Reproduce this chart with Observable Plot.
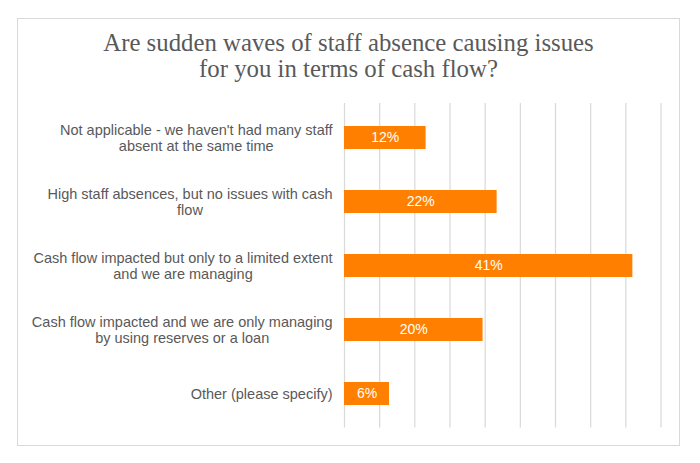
<!DOCTYPE html>
<html>
<head>
<meta charset="utf-8">
<script src="https://cdn.jsdelivr.net/npm/d3@7"></script>
<script src="https://cdn.jsdelivr.net/npm/@observablehq/plot@0.6"></script>
<style>
  html, body { margin: 0; padding: 0; background: #fff; }
  #wrap { position: relative; width: 700px; height: 463px; overflow: hidden; }
  #border { position: absolute; left: 17px; top: 18px; width: 661px; height: 426px; border: 1px solid #d9d9d9; box-sizing: content-box; }
  #title { position: absolute; left: 17px; width: 663px; top: 30px; text-align: center;
           font-family: "Liberation Serif", serif; font-size: 24.8px; line-height: 26px; color: #595959; }
  #chart { position: absolute; left: 0; top: 0; }
</style>
</head>
<body>
<div id="wrap">
  <div id="border"></div>
  <div id="chart"></div>
  <div id="title">Are sudden waves of staff absence causing issues<br>for you in terms of cash flow?</div>
</div>
<script>
const categories = [
  "Not applicable - we haven't had many staff\nabsent at the same time",
  "High staff absences, but no issues with cash\nflow",
  "Cash flow impacted but only to a limited extent\nand we are managing",
  "Cash flow impacted and we are only managing\nby using reserves or a loan",
  "Other (please specify)"
];
const values = [11.6, 21.7, 41.0, 19.7, 6.4];
const valueLabels = ["12%", "22%", "41%", "20%", "6%"];
const gridTicks = [0, 5, 10, 15, 20, 25, 30, 35, 40, 45];

const data = categories.map((c, i) => ({category: c, value: values[i], label: valueLabels[i]}));

const labelSize = 14.5;
const ctx = document.createElement("canvas").getContext("2d");
ctx.font = labelSize + "px 'Liberation Sans'";
const blockWidth = c => Math.max(...c.split("\n").map(l => ctx.measureText(l).width));
const gap = 12;

const labelMarks = categories.map(c =>
  Plot.text([c], {
    x: () => 0, y: d => d, text: d => d,
    textAnchor: "middle", lineAnchor: "middle", lineHeight: 1.05,
    dx: -(gap + blockWidth(c) / 2),
    fill: "#595959", fontSize: labelSize
  })
);

const chart = Plot.plot({
  width: 700,
  height: 463,
  marginLeft: 344,
  marginRight: 39.5,
  marginTop: 103,
  marginBottom: 35.5,
  x: {domain: [0, 45], axis: null},
  y: {domain: categories, axis: null, paddingInner: 0.646, paddingOuter: 0.323},
  style: {fontFamily: "'Liberation Sans', Arial, sans-serif", background: "transparent"},
  marks: [
    Plot.ruleX(gridTicks, {stroke: "#d9d9d9", strokeWidth: 1.2}),
    Plot.barX(data, {x: "value", y: "category", fill: "#ff7f00"}),
    Plot.text(data, {x: d => d.value / 2, y: "category", text: "label", fill: "white", fontSize: 14}),
    ...labelMarks
  ]
});
document.getElementById("chart").appendChild(chart);
</script>
</body>
</html>
